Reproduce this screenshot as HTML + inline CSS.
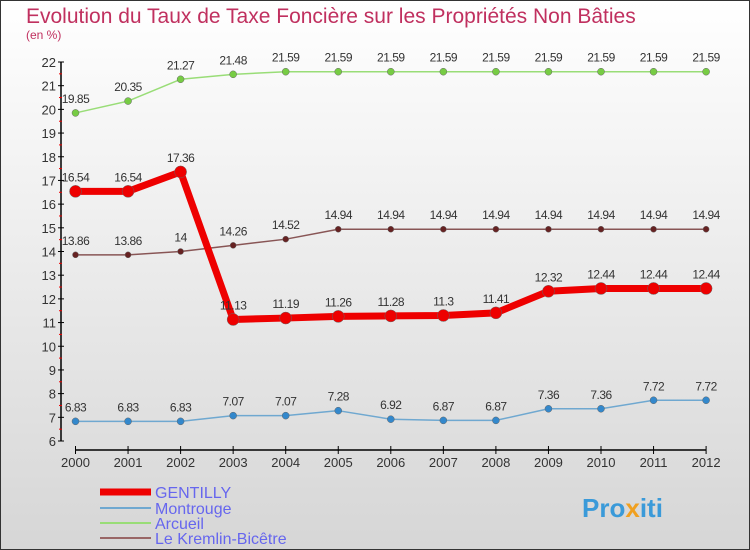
<!DOCTYPE html>
<html><head><meta charset="utf-8"><style>
body{margin:0}
#c{width:750px;height:550px;position:relative;overflow:hidden;font-family:"Liberation Sans",sans-serif;}
</style></head><body>
<div id="c">
<svg id="s" width="750" height="550" xmlns="http://www.w3.org/2000/svg">
<defs><linearGradient id="bg" x1="0" y1="0" x2="0" y2="1"><stop offset="0" stop-color="#ffffff"/><stop offset="1" stop-color="#d6d6d6"/></linearGradient></defs>
<rect x="0.5" y="0.5" width="749" height="549" fill="url(#bg)" stroke="#333"/>
<text x="26" y="23" font-size="21" fill="#c0305f">Evolution du Taux de Taxe Foncière sur les Propriétés Non Bâties</text>
<text x="26" y="39" font-size="12" fill="#c0305f">(en %)</text>
<g id="axes"></g><g id="series"></g>
<g>
<line x1="100" y1="492" x2="151" y2="492" stroke="#ee0000" stroke-width="7"/>
<text x="155" y="498" font-size="16" fill="#6666ee">GENTILLY</text>
<line x1="100" y1="508" x2="151" y2="508" stroke="#6fa8d0" stroke-width="2"/>
<text x="155" y="514" font-size="16" fill="#6666ee">Montrouge</text>
<line x1="100" y1="523" x2="151" y2="523" stroke="#99dd77" stroke-width="2"/>
<text x="155" y="529" font-size="16" fill="#6666ee">Arcueil</text>
<line x1="100" y1="538" x2="151" y2="538" stroke="#996666" stroke-width="2"/>
<text x="155" y="544" font-size="16" fill="#6666ee">Le Kremlin-Bicêtre</text>
</g>
<text x="582" y="517" font-size="26" font-weight="bold" fill="#3a9ad9">Pro<tspan fill="#f0a020">x</tspan>iti</text>
</svg>
</div>
<script>
const years=[2000,2001,2002,2003,2004,2005,2006,2007,2008,2009,2010,2011,2012];
const gentilly=[16.54,16.54,17.36,11.13,11.19,11.26,11.28,11.3,11.41,12.32,12.44,12.44,12.44];
const montrouge=[6.83,6.83,6.83,7.07,7.07,7.28,6.92,6.87,6.87,7.36,7.36,7.72,7.72];
const arcueil=[19.85,20.35,21.27,21.48,21.59,21.59,21.59,21.59,21.59,21.59,21.59,21.59,21.59];
const kremlin=[13.86,13.86,14,14.26,14.52,14.94,14.94,14.94,14.94,14.94,14.94,14.94,14.94];
const yTicks=[6,7,8,9,10,11,12,13,14,15,16,17,18,19,20,21,22];
const NS="http://www.w3.org/2000/svg";
const X=i=>75.5+i*52.55, Y=v=>441-(v-6)*(379/16);
function mk(t,a,p){const e=document.createElementNS(NS,t);for(const k in a)e.setAttribute(k,a[k]);p.appendChild(e);return e;}
const ax=document.getElementById('axes'), se=document.getElementById('series');
let yl=mk('line',{x1:61,y1:Y(22),x2:61,y2:Y(6),stroke:'#000','stroke-width':1.5},ax);


yTicks.forEach(v=>{
 mk('line',{x1:58,y1:Y(v),x2:64,y2:Y(v),stroke:'#000'},ax);
 if(v<22)mk('line',{x1:59,y1:Y(v+0.5),x2:62,y2:Y(v+0.5),stroke:'#e00'},ax);
 const t=mk('text',{x:56,y:Y(v)+5,'font-size':13,'text-anchor':'end',fill:'#333'},ax);t.textContent=v;
 
 
});
let xl=mk('line',{x1:X(0),y1:450,x2:X(12),y2:450,stroke:'#000','stroke-width':1.5},ax);


years.forEach((y,i)=>{
 mk('line',{x1:X(i),y1:446,x2:X(i),y2:454,stroke:'#000'},ax);
 const t=mk('text',{x:X(i),y:467,'font-size':13,'text-anchor':'middle',fill:'#333'},ax);t.textContent=y;
 
 
});
function series(d,name,col,w,r,dot){
 const g=mk('g',{},se);
 
 
 mk('polyline',{points:d.map((v,i)=>X(i)+','+Y(v)).join(' '),fill:'none',stroke:col,'stroke-width':w,'stroke-linejoin':'round'},g);
 d.forEach((v,i)=>{
  const c=mk('circle',{cx:X(i),cy:Y(v),r:r,fill:dot,stroke:'#666','stroke-width':0.5},g);
  
  
  const t=mk('text',{x:X(i),y:Y(v)-10,'font-size':12,'text-anchor':'middle',fill:'#333','letter-spacing':'-0.5'},g);t.textContent=v;
  
  
 });
}
series(arcueil,'arcueil','#99dd77',1.5,3.5,'#77cc44');
series(kremlin,'kremlin','#885555',1.5,3,'#662222');
series(montrouge,'montrouge','#6fa8d0',1.5,3.5,'#3388cc');
series(gentilly,'gentilly','#ee0000',7,6,'#ee0000');
</script>
</body></html>
